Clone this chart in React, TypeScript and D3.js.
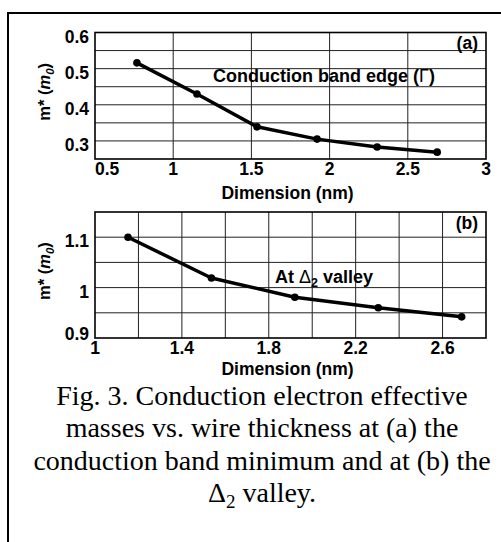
import React, { useRef, useEffect } from 'react';
import * as d3 from 'd3';

// panel (a): conduction band edge
const dimA = [0.768, 1.152, 1.536, 1.92, 2.304, 2.688];
const massA = [0.516, 0.43, 0.339, 0.305, 0.283, 0.269];
const xTicksA = [0.5, 1, 1.5, 2, 2.5, 3];
const yTicksA = [0.3, 0.4, 0.5, 0.6];

// panel (b): delta2 valley
const dimB = [1.152, 1.536, 1.92, 2.304, 2.688];
const massB = [1.1, 1.019, 0.981, 0.96, 0.942];
const xTicksB = [1, 1.4, 1.8, 2.2, 2.6];
const yTicksB = [0.9, 1, 1.1];

const caption = [
  'Fig. 3. Conduction electron effective',
  'masses vs. wire thickness at (a) the',
  'conduction band minimum and at (b) the',
];

const SANS = 'Liberation Sans, Arial, Helvetica, sans-serif';
const SERIF = 'Liberation Serif, Times New Roman, serif';
const FS = 17.5;

const App = () => {
  const chartRef = useRef(null);

  useEffect(() => {
    document.body.style.margin = '0';
    const width = 501;
    const height = 542;

    d3.select(chartRef.current).select('svg').remove();

    const svg = d3.select(chartRef.current)
      .append('svg')
      .attr('width', width)
      .attr('height', height)
      .style('display', 'block')
      .style('background', '#fff');

    // outer frame (left and top edges only)
    svg.append('path')
      .attr('d', 'M8,542V13H501')
      .attr('fill', 'none')
      .attr('stroke', '#000')
      .attr('stroke-width', 2);

    const drawPanel = (opts) => {
      const { dims, mass, xDomain, yDomain, xTicks, yTicks, top, bottom,
        gridX, gridY, tag, tagY, firstStart, labelGap, titleGap } = opts;
      const left = 95;
      const right = 486;
      const x = d3.scaleLinear().domain(xDomain).range([left, right]);
      const y = d3.scaleLinear().domain(yDomain).range([bottom, top]);
      const g = svg.append('g');

      // gridlines
      g.selectAll('.gx')
        .data(x.ticks(gridX).filter(v => x(v) > left + 1 && x(v) < right - 1))
        .enter().append('line')
        .attr('x1', d => x(d)).attr('x2', d => x(d))
        .attr('y1', top).attr('y2', bottom)
        .attr('stroke', '#222').attr('stroke-width', 1);
      g.selectAll('.gy')
        .data(y.ticks(gridY).filter(v => y(v) > top + 1 && y(v) < bottom - 1))
        .enter().append('line')
        .attr('y1', d => y(d)).attr('y2', d => y(d))
        .attr('x1', left).attr('x2', right)
        .attr('stroke', '#222').attr('stroke-width', 1);

      // frame
      g.append('rect')
        .attr('x', left).attr('y', top)
        .attr('width', right - left).attr('height', bottom - top)
        .attr('fill', 'none').attr('stroke', '#000').attr('stroke-width', 1.6);

      // series
      const pts = dims.map((d, i) => [d, mass[i]]);
      g.append('path')
        .datum(pts)
        .attr('d', d3.line().x(d => x(d[0])).y(d => y(d[1])))
        .attr('fill', 'none')
        .attr('stroke', '#000')
        .attr('stroke-width', 3.5)
        .attr('stroke-linejoin', 'round');
      g.selectAll('.pt')
        .data(pts)
        .enter().append('circle')
        .attr('cx', d => x(d[0])).attr('cy', d => y(d[1]))
        .attr('r', 3.8).attr('fill', '#000');

      // tick labels
      g.selectAll('.xl')
        .data(xTicks)
        .enter().append('text')
        .attr('x', d => x(d))
        .attr('y', bottom + labelGap)
        .attr('text-anchor', (d, i) => (i === 0 && firstStart ? 'start' : 'middle'))
        .attr('font-family', SANS).attr('font-weight', 'bold').attr('font-size', FS)
        .text(d => d);
      g.selectAll('.yl')
        .data(yTicks)
        .enter().append('text')
        .attr('x', 89)
        .attr('y', d => Math.min(y(d) + 4, bottom - 4))
        .attr('dy', '0.35em')
        .attr('text-anchor', 'end')
        .attr('font-family', SANS).attr('font-weight', 'bold').attr('font-size', FS)
        .text(d => d);

      // axis titles
      g.append('text')
        .attr('x', (left + right) / 2 - 3)
        .attr('y', bottom + titleGap)
        .attr('text-anchor', 'middle')
        .attr('font-family', SANS).attr('font-weight', 'bold').attr('font-size', FS)
        .text('Dimension (nm)');
      const yt = g.append('text')
        .attr('transform', `translate(50, ${(top + bottom) / 2 - 4}) rotate(-90)`)
        .attr('text-anchor', 'middle')
        .attr('font-family', SANS).attr('font-weight', 'bold').attr('font-size', 16.5);
      yt.append('tspan').text('m* (');
      yt.append('tspan').attr('font-style', 'italic').text('m');
      yt.append('tspan').attr('font-style', 'italic').attr('font-size', 11.5).attr('dy', 4).text('0');
      yt.append('tspan').attr('dy', -4).text(')');

      // panel tag
      g.append('text')
        .attr('x', 478).attr('y', tagY)
        .attr('text-anchor', 'end')
        .attr('font-family', SANS).attr('font-weight', 'bold').attr('font-size', FS)
        .text(tag);

      return { g, x, y };
    };

    const a = drawPanel({
      dims: dimA, mass: massA, xDomain: [0.5, 3], yDomain: [0.25, 0.6],
      xTicks: xTicksA, yTicks: yTicksA, top: 32.5, bottom: 159,
      gridX: 5, gridY: 7, tag: '(a)', tagY: 49, firstStart: true,
      labelGap: 16, titleGap: 40,
    });
    const ta = a.g.append('text')
      .attr('x', 213).attr('y', 82)
      .attr('font-family', SANS).attr('font-weight', 'bold').attr('font-size', 18);
    ta.append('tspan').text('Conduction band edge (');
    ta.append('tspan').attr('font-weight', 'normal').text('Γ');
    ta.append('tspan').text(')');

    const b = drawPanel({
      dims: dimB, mass: massB, xDomain: [1, 2.8], yDomain: [0.9, 1.15],
      xTicks: xTicksB, yTicks: yTicksB, top: 212, bottom: 338,
      gridX: 9, gridY: 5, tag: '(b)', tagY: 229, firstStart: false,
      labelGap: 16, titleGap: 37,
    });
    const tb = b.g.append('text')
      .attr('x', 275).attr('y', 283)
      .attr('font-family', SANS).attr('font-weight', 'bold').attr('font-size', 18);
    tb.append('tspan').text('At ');
    tb.append('tspan').attr('font-weight', 'normal').text('Δ');
    tb.append('tspan').attr('font-size', 12.5).attr('dy', 4).text('2');
    tb.append('tspan').attr('dy', -4).text(' valley');

    // caption
    const cap = svg.append('g')
      .attr('font-family', SERIF).attr('font-size', 28)
      .attr('text-anchor', 'middle');
    cap.selectAll('.cl')
      .data(caption)
      .enter().append('text')
      .attr('x', 262)
      .attr('y', (d, i) => 405 + i * 32.3)
      .text(d => d);
    const last = cap.append('text').attr('x', 262).attr('y', 405 + 3 * 32.3);
    last.append('tspan').text('Δ');
    last.append('tspan').attr('font-size', 19).attr('dy', 6).text('2');
    last.append('tspan').attr('dy', -6).text(' valley.');
  }, []);

  return <div ref={chartRef}></div>;
};

export default App;
